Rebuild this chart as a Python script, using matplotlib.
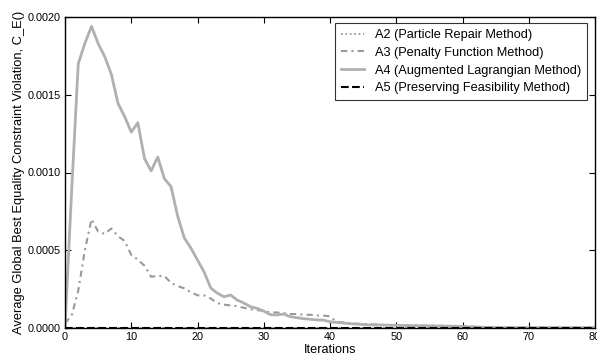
import matplotlib
matplotlib.use("Agg")
import matplotlib.pyplot as plt
import numpy as np

iterations = list(range(0, 81))

a4_head = [0.0, 0.00088, 0.00170, 0.00183, 0.00194, 0.00183, 0.001745, 0.00163, 0.001445,
           0.00136, 0.00126, 0.00132, 0.00109, 0.00101, 0.00110, 0.00096, 0.00091, 0.00072,
           0.00058, 0.000514, 0.000437, 0.00036, 0.000257, 0.000224, 0.000201, 0.000212,
           0.00018, 0.00016, 0.000137, 0.000126, 0.000109, 0.000086, 0.000084, 0.00009,
           0.000073, 0.000066, 0.00006, 0.000056, 0.000052, 0.000051, 0.00004, 0.000036,
           0.000032, 0.000028, 0.000025, 0.000022, 0.00002, 0.00002, 0.000019, 0.000018,
           0.000017, 0.000016, 0.000015, 0.000015, 0.000014, 0.000014, 0.000013, 0.000012,
           0.000012, 0.000011, 0.00001, 0.000008, 0.000006, 0.000005, 0.000004, 0.000003]
a4_tail = [0.000002] * (81 - len(a4_head))
a4 = a4_head + a4_tail

a3_head = [0.00003, 0.00008, 0.00024, 0.00050, 0.00070, 0.00062, 0.000605, 0.00064, 0.00059,
           0.00056, 0.00047, 0.00044, 0.00040, 0.00033, 0.000334, 0.000335, 0.00029, 0.00027,
           0.000255, 0.00023, 0.00021, 0.00021, 0.00019, 0.00016, 0.00015, 0.000145, 0.00014,
           0.00013, 0.00012, 0.000115, 0.00011, 0.0001, 0.0001, 0.000095, 0.00009, 0.00009,
           0.000085, 0.000085, 0.00008, 0.00008, 0.000075, 0.00004, 0.000035, 0.00003,
           0.000028, 0.000026, 0.000024, 0.000022, 0.00002, 0.000019, 0.000018, 0.000017,
           0.000016, 0.000016, 0.000015, 0.000015, 0.000014, 0.000014, 0.000013, 0.000013,
           0.000012, 0.00001, 0.000008, 0.000006, 0.000005, 0.000004]
a3_tail = [0.000003] * (81 - len(a3_head))
a3 = a3_head + a3_tail

a2 = [0.0] * 81
a5 = [0.0] * 81

labels = ["A2 (Particle Repair Method)", "A3 (Penalty Function Method)",
          "A4 (Augmented Lagrangian Method)", "A5 (Preserving Feasibility Method)"]

plt.rcParams['font.family'] = ['Liberation Sans', 'DejaVu Sans']

fig = plt.figure(figsize=(5.97, 3.58), dpi=100)
ax = fig.add_axes([65/597, 1 - 328/358, (595 - 65)/597, (328 - 17)/358])

ax.plot(iterations, a2, linestyle=':', color='#888888', linewidth=1.2, label=labels[0])
ax.plot(iterations, a3, linestyle=(0, (3, 2, 1, 2)), color='#999999', linewidth=1.5, label=labels[1])
ax.plot(iterations, a4, linestyle='-', color='#b0b0b0', linewidth=2, label=labels[2])
ax.plot(iterations, a5, linestyle='--', color='black', linewidth=1.5, label=labels[3])

ax.set_xlim(0, 80)
ax.set_ylim(0, 0.002)
ax.set_xticks(range(0, 81, 10))
ax.set_yticks([0.0, 0.0005, 0.0010, 0.0015, 0.0020])
ax.set_yticklabels(['0.0000', '0.0005', '0.0010', '0.0015', '0.0020'])
ax.tick_params(direction='in', top=True, right=True, labelsize=7.8, length=4, pad=3)
for s in ax.spines.values():
    s.set_linewidth(1.0)

ax.set_xlabel('Iterations', fontsize=9.2, labelpad=1)
ax.set_ylabel('Average Global Best Equality Constraint Violation, C_E()', fontsize=9.3, labelpad=2)

leg = ax.legend(loc='upper right', fontsize=9.2, frameon=True, fancybox=False,
                edgecolor='black', handlelength=1.8, handletextpad=0.9,
                borderpad=0.45, labelspacing=0.45,
                bbox_to_anchor=(0.997, 1.0))
leg.get_frame().set_linewidth(0.8)

fig.savefig('out.png', dpi=100, facecolor='white')
